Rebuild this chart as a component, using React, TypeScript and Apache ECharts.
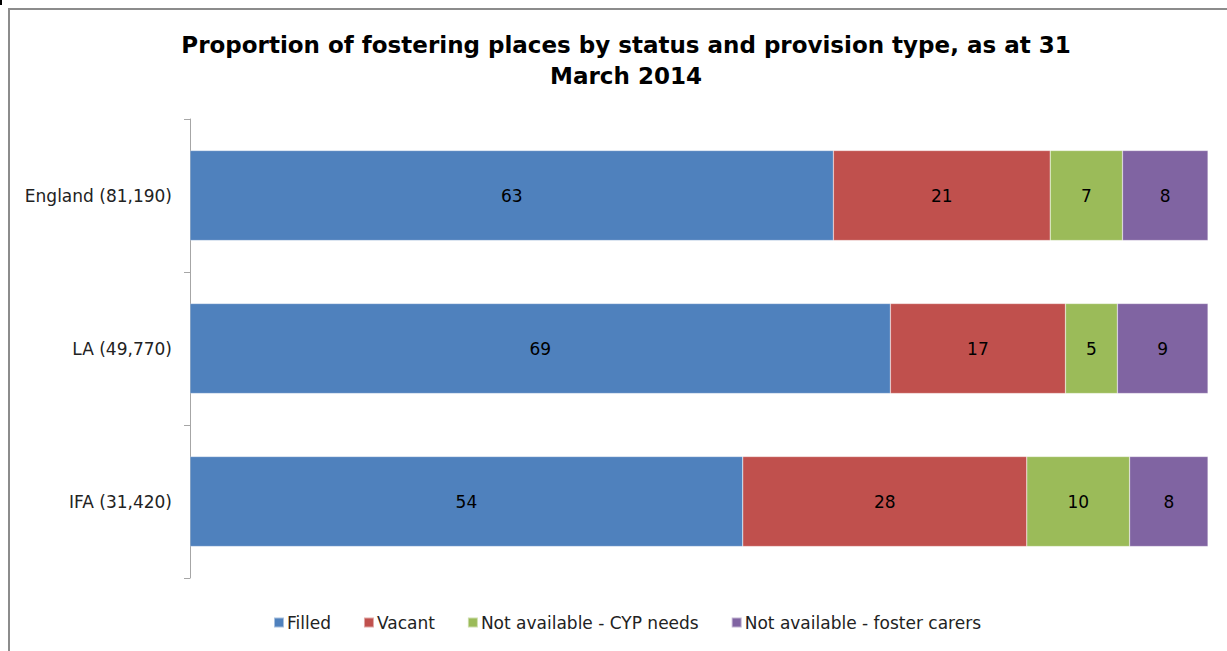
import React, { useEffect, useRef } from "react";
import * as echarts from "echarts";

const categories = ["England (81,190)", "LA (49,770)", "IFA (31,420)"];
const seriesNames = ["Filled", "Vacant", "Not available - CYP needs", "Not available - foster carers"];
const filled = [63.2, 68.8, 54.3];
const vacant = [21.3, 17.2, 27.9];
const cypNeeds = [7.1, 5.1, 10.1];
const fosterCarers = [8.4, 8.9, 7.7];
const colors = ["#4F81BD", "#C0504D", "#9BBB59", "#8064A2"];

const FONT = "DejaVu Sans";

export default function App() {
  const ref = useRef<HTMLDivElement>(null);
  useEffect(() => {
    if (!ref.current) return;
    const chart = echarts.init(ref.current, null, { renderer: "svg" });
    const values = [filled, vacant, cypNeeds, fosterCarers];
    chart.setOption({
      animation: false,
      backgroundColor: "#ffffff",
      textStyle: { fontFamily: FONT },
      title: {
        text: "Proportion of fostering places by status and provision type, as at 31\nMarch 2014",
        left: 621,
        textAlign: "center",
        top: 24,
        textStyle: { fontFamily: FONT, fontSize: 23, fontWeight: "bold", color: "#000", lineHeight: 31 },
      },
      legend: {
        bottom: 15,
        left: 268,
        itemWidth: 10,
        itemHeight: 10,
        itemGap: 32,
        icon: "rect",
        textStyle: { fontFamily: FONT, fontSize: 17, color: "#222", padding: [0, 0, 0, -2] },
        data: seriesNames,
      },
      grid: { left: 190, right: 19, top: 119, bottom: 73 },
      xAxis: {
        type: "value",
        min: 0,
        max: 100,
        show: false,
      },
      yAxis: {
        type: "category",
        inverse: true,
        data: categories,
        axisLine: { show: true, lineStyle: { color: "#a6a6a6", width: 1 } },
        axisTick: { show: true, length: 6, lineStyle: { color: "#a6a6a6" } },
        axisLabel: { fontFamily: FONT, fontSize: 17, color: "#222", margin: 18 },
      },
      graphic: [
        {
          type: "rect",
          shape: { x: 9, y: 9, width: 1240, height: 660 },
          style: { fill: "none", stroke: "#8c8c8c", lineWidth: 2 },
          silent: true,
        },
        {
          type: "line",
          shape: { x1: 1, y1: 0, x2: 1, y2: 5 },
          style: { stroke: "#000", lineWidth: 2 },
          silent: true,
        },
      ],
      series: values.map((v, i) => ({
        name: seriesNames[i],
        type: "bar",
        stack: "total",
        barWidth: 90,
        data: v,
        itemStyle: { color: colors[i], borderColor: "rgba(255,255,255,0.5)", borderWidth: 0.5 },
        label: {
          show: true,
          position: "inside",
          color: "#000",
          fontFamily: FONT,
          fontSize: 17,
          formatter: (p: any) => String(Math.round(p.value)),
        },
      })),
    });
    return () => chart.dispose();
  }, []);
  return (
    <div
      ref={ref}
      style={{ position: "absolute", left: 0, top: 0, width: 1227, height: 651 }}
    />
  );
}
